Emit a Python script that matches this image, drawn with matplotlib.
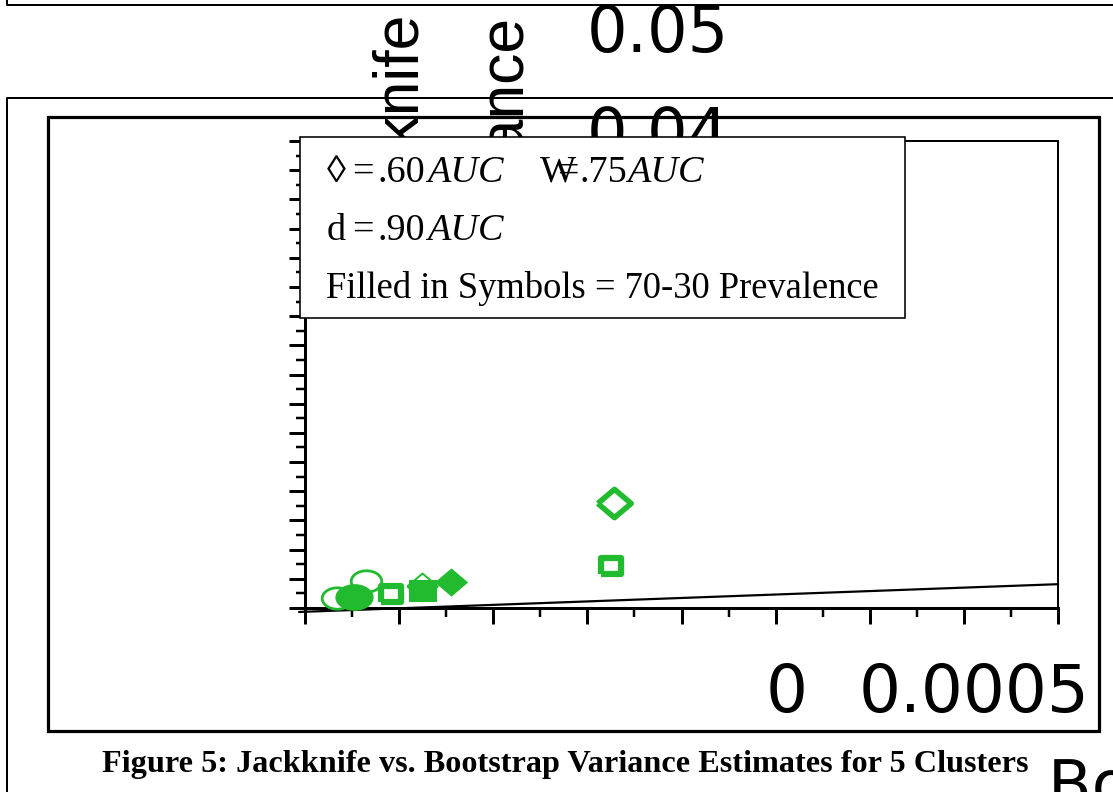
import numpy as np
import matplotlib
matplotlib.use('Agg')
import matplotlib.pyplot as plt
from matplotlib.lines import Line2D
from matplotlib.patches import Rectangle

W, H = 1113, 792
GREEN = '#22BB2F'

# axis ticks (data units)
x_major = [0, 0.0005, 0.001, 0.0015, 0.002, 0.0025, 0.003, 0.0035, 0.004]
x_minor = [0.00025, 0.00075, 0.00125, 0.00175, 0.00225, 0.00275, 0.00325, 0.00375]
y_major = [0.0, 0.005, 0.01, 0.015, 0.02, 0.025, 0.03, 0.035, 0.04,
           0.045, 0.05, 0.055, 0.06, 0.065, 0.07, 0.075, 0.08]
y_minor = [0.0025, 0.0075, 0.0125, 0.0175, 0.0225, 0.0275, 0.0325, 0.0375,
           0.0425, 0.0475, 0.0525, 0.0575, 0.0625, 0.0675, 0.0725, 0.0775]

# reference line
ref_x = [-0.00003, 0.004]
ref_y = [-0.00068, 0.00408]

# points (bootstrap var, jackknife var)
d60_open_x = [0.001644]
d60_open_y = [0.01799]
d60_thin_x = [0.000622]
d60_thin_y = [0.00377]
d60_fill_x = [0.000777]
d60_fill_y = [0.00445]
s75_open_x = [0.001628, 0.000457]
s75_open_y = [0.00720, 0.00240]
s75_fill_x = [0.000628]
s75_fill_y = [0.00291]
c90_open_x = [0.000170, 0.000324]
c90_open_y = [0.00171, 0.00463]
c90_fill_x = [0.000261]
c90_fill_y = [0.00188]

legend_line1 = ['\u25ca', '=', '.60', 'AUC', 'W', '=', '.75', 'AUC']
legend_line2 = ['d', '=', '.90', 'AUC']
legend_line3 = 'Filled in Symbols = 70-30 Prevalence'
caption = 'Figure 5: Jackknife vs. Bootstrap Variance Estimates for 5 Clusters'


def fx(px):
    return px / W


def fy(py):
    return 1 - py / H


def lw(px):
    return px * 0.72


# marker shapes
diamond = [(-1, 0), (0, 0.85), (1, 0), (0, -0.85), (-1, 0)]
square = [(-1, -0.8), (1, -0.8), (1, 0.8), (-1, 0.8), (-1, -0.8)]
t = np.linspace(0, 2 * np.pi, 80)
ellipse = list(zip(np.cos(t), 0.7 * np.sin(t)))

fig = plt.figure(figsize=(W / 100, H / 100), dpi=100)

# page boxes
fig.add_artist(Line2D([fx(7), fx(7), fx(1120)], [fy(-5), fy(5), fy(5)],
                      lw=lw(2), color='black'))
fig.add_artist(Line2D([fx(7), fx(7), fx(1120)], [fy(800), fy(98), fy(98)],
                      lw=lw(2), color='black'))
fig.add_artist(Rectangle((fx(48), fy(731)), fx(1099) - fx(48), fy(117) - fy(731),
                         fill=False, lw=lw(3.2), edgecolor='black'))

ax = fig.add_axes([fx(305), fy(608), fx(1058) - fx(305), fy(141) - fy(608)])
ax.set_xlim(0, 0.004)
ax.set_ylim(0, 0.08)
ax.set_xticks(x_major)
ax.set_xticks(x_minor, minor=True)
ax.set_yticks(y_major)
ax.set_yticks(y_minor, minor=True)
ax.set_xticklabels([])
ax.set_yticklabels([])
ax.tick_params(which='major', direction='out', length=lw(16), width=lw(3), color='black')
ax.tick_params(which='minor', direction='out', length=lw(9), width=lw(2.5), color='black')
for side in ['left', 'bottom']:
    ax.spines[side].set_linewidth(lw(3))
for side in ['top', 'right']:
    ax.spines[side].set_linewidth(lw(2))

ax.plot(ref_x, ref_y, color='black', lw=lw(2.2), clip_on=False, zorder=2)

ax.plot(d60_thin_x, d60_thin_y, ls='none', marker=diamond, ms=22, mfc='none',
        mec=GREEN, mew=1.4, clip_on=False, zorder=3)
ax.plot(s75_fill_x, s75_fill_y, ls='none', marker=square, ms=19.5, mfc=GREEN,
        mec=GREEN, mew=0, clip_on=False, zorder=4)
ax.plot(d60_fill_x, d60_fill_y, ls='none', marker=diamond, ms=24, mfc=GREEN,
        mec=GREEN, mew=0, clip_on=False, zorder=4)
ax.plot(c90_open_x, c90_open_y, ls='none', marker=ellipse, ms=22, mfc='white',
        mec=GREEN, mew=2.0, clip_on=False, zorder=4)
ax.plot(c90_fill_x, c90_fill_y, ls='none', marker=ellipse, ms=27.5, mfc=GREEN,
        mec=GREEN, mew=0, clip_on=False, zorder=5)
ax.plot(s75_open_x, s75_open_y, ls='none', marker=square, ms=14.4, mfc='white',
        mec=GREEN, mew=4.5, clip_on=False, zorder=5)
ax.plot(d60_open_x, d60_open_y, ls='none', marker=diamond, ms=24, mfc='white',
        mec=GREEN, mew=4.0, clip_on=False, zorder=5)

# stray axis texts
sans = 'DejaVu Sans'
fig.text(fx(587), fy(52), '0.05', family=sans, size=46, va='baseline', ha='left', zorder=3)
fig.text(fx(587), fy(154), '0.04', family=sans, size=46, va='baseline', ha='left', zorder=3)
fig.text(fx(418), fy(14), 'Jackknife', family='Liberation Sans', size=45, rotation=90,
         rotation_mode='anchor', ha='right', va='baseline', zorder=3)
fig.text(fx(523), fy(17), 'Variance', family='Liberation Sans', size=45, rotation=90,
         rotation_mode='anchor', ha='right', va='baseline', zorder=3)
fig.text(fx(766), fy(712), '0', family=sans, size=47.5, va='baseline', ha='left', zorder=3)
fig.text(fx(859), fy(712), '0.0005', family=sans, size=47.5, va='baseline', ha='left', zorder=3)
fig.text(fx(1048), fy(806), 'Bootstrap Variance', family=sans, size=46,
         va='baseline', ha='left', zorder=3)

# legend box
fig.add_artist(Rectangle((fx(300), fy(318)), fx(905) - fx(300), fy(137) - fy(318),
                         facecolor='white', edgecolor='black', lw=lw(1.6), zorder=10))
serif = ['Liberation Serif', 'DejaVu Serif']
line1_x = [327, 352, 377, 427, 540, 557, 580, 627]
for txt, px in zip(legend_line1, line1_x):
    style = 'italic' if txt == 'AUC' else 'normal'
    fig.text(fx(px), fy(182), txt, family=serif, size=27.5, style=style,
             va='baseline', ha='left', zorder=11)
line2_x = [327, 352, 378, 427]
for txt, px in zip(legend_line2, line2_x):
    style = 'italic' if txt == 'AUC' else 'normal'
    fig.text(fx(px), fy(240), txt, family=serif, size=27.5, style=style,
             va='baseline', ha='left', zorder=11)
fig.text(fx(326), fy(298), legend_line3, family=serif, size=26.3,
         va='baseline', ha='left', zorder=11)

fig.text(fx(565), fy(772), caption, family='Liberation Serif', weight='bold',
         size=23.2, va='baseline', ha='center')

fig.savefig('out.png', dpi=100)
